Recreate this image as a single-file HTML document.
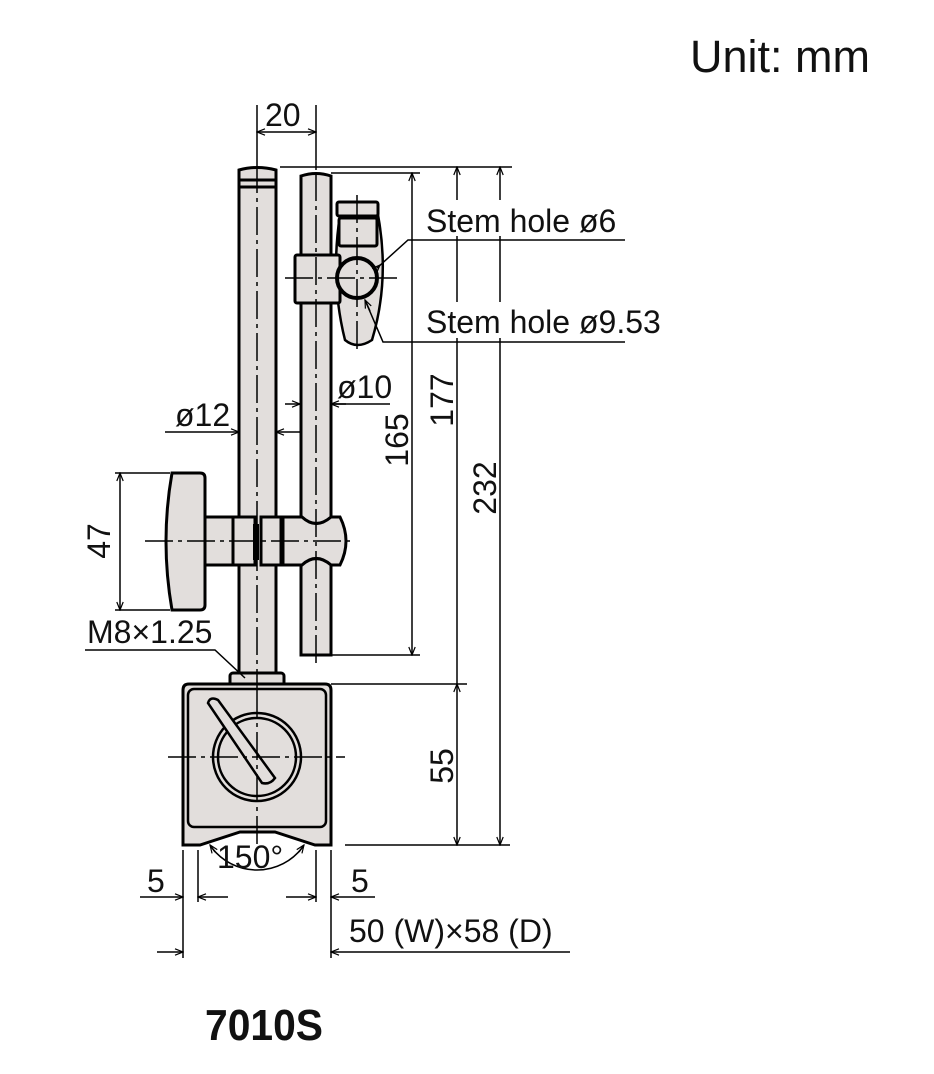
<!DOCTYPE html>
<html><head><meta charset="utf-8"><style>
html,body{margin:0;padding:0;background:#fff;}
svg{display:block;}
text{font-family:"Liberation Sans","DejaVu Sans",sans-serif;fill:#111;}
</style></head><body>
<svg width="934" height="1074" viewBox="0 0 934 1074" xmlns="http://www.w3.org/2000/svg">
<defs>
<marker id="a" viewBox="0 0 10 10" refX="10" refY="5" markerWidth="10" markerHeight="8" orient="auto-start-reverse" markerUnits="userSpaceOnUse"><path d="M0,1 L10,5 L0,9" fill="none" stroke="#000" stroke-width="1.5"/></marker>
</defs>
<text x="690" y="72" font-size="45">Unit: mm</text>

<g fill="#e2dedc" stroke="#000" stroke-width="3">
<path d="M239,680 L239,170 Q257,165 276,170 L276,680 Z"/>
<path d="M301,655 L301,176 Q316,171 331,176 L331,655 Z"/>
<path d="M340,215 Q330,280 345,340 Q357,350 372,340 Q390,280 378,215 Z" stroke-width="2.5"/>
<rect x="337" y="202" width="41" height="14" rx="2"/>
<rect x="339" y="218" width="38" height="28" rx="2"/>
<rect x="295" y="255" width="45" height="48" rx="2"/>
<circle cx="357" cy="278" r="20" stroke-width="4"/>
<path d="M172,473 L200,473 Q205,473 205,478 L205,605 Q205,610 200,610 L172,610 Q160,541 172,473 Z"/>
<rect x="205" y="517" width="28" height="48"/>
<rect x="233" y="517" width="22" height="48"/>
<rect x="261" y="517" width="20" height="48"/>
<path d="M283,517 L302,517 Q316,530 331,517 L340,517 Q352,541 340,565 L331,565 Q316,552 302,565 L283,565 Z"/>
<rect x="230" y="673" width="54" height="14" rx="3"/>
<path d="M183,845 L183,690 Q183,684 189,684 L325,684 Q331,684 331,690 L331,845 L315,845 L275,832 L240,832 L200,845 Z"/>
<rect x="188" y="689" width="138" height="138" rx="6" stroke-width="2.5"/>
<circle cx="257" cy="757" r="44" stroke-width="2.5"/>
<circle cx="257" cy="757" r="39" stroke-width="2.5"/>
<path d="M208,703 Q210,696 218,700 L275,778 Q270,785 262,783 Z" stroke-width="2.5"/>
</g>
<g stroke="#000" stroke-width="3" fill="none">
<line x1="239" y1="180" x2="276" y2="180"/><line x1="239" y1="187" x2="276" y2="187"/>
<line x1="256" y1="524" x2="256" y2="560" stroke-width="6"/>
</g>
<g stroke="#000" stroke-width="1.5" fill="none" stroke-dasharray="28,5,4,5">
<line x1="257" y1="165" x2="257" y2="690"/>
<line x1="316" y1="173" x2="316" y2="665"/>
<line x1="357" y1="195" x2="357" y2="352"/>
<line x1="285" y1="278" x2="400" y2="278"/>
<line x1="145" y1="541" x2="355" y2="541"/>
<line x1="257" y1="690" x2="257" y2="850"/>
<line x1="168" y1="757" x2="345" y2="757"/>
</g>
<g stroke="#000" stroke-width="1.5" fill="none">
<line x1="257" y1="105" x2="257" y2="165"/><line x1="316" y1="105" x2="316" y2="170"/>
<line x1="257" y1="132" x2="316" y2="132" marker-start="url(#a)" marker-end="url(#a)"/>
<line x1="280" y1="167" x2="512" y2="167"/>
<line x1="331" y1="173" x2="420" y2="173"/>
<line x1="331" y1="655" x2="420" y2="655"/>
<line x1="412" y1="173" x2="412" y2="655" marker-start="url(#a)" marker-end="url(#a)"/>
<line x1="457" y1="167" x2="457" y2="684" marker-start="url(#a)"/>
<line x1="500" y1="167" x2="500" y2="845" marker-start="url(#a)" marker-end="url(#a)"/>
<line x1="457" y1="684" x2="457" y2="845" marker-start="url(#a)" marker-end="url(#a)"/>
<line x1="331" y1="684" x2="467" y2="684"/>
<line x1="345" y1="845" x2="510" y2="845"/>
</g>
<g fill="#fff"><rect x="424" y="200" width="205" height="36"/><rect x="424" y="302" width="255" height="36"/></g>
<g stroke="#000" stroke-width="1.5" fill="none">
<polyline points="377,268 408,240 625,240"/>
<line x1="377" y1="268" x2="380" y2="265" marker-end="url(#a)"/>
<polyline points="625,342 383,342 365,300" />
<line x1="370" y1="311" x2="365" y2="300" marker-end="url(#a)"/>
<line x1="285" y1="404" x2="300" y2="404" marker-end="url(#a)"/>
<line x1="331" y1="404" x2="390" y2="404"/><line x1="346" y1="404" x2="331" y2="404" marker-end="url(#a)"/>
<line x1="165" y1="432" x2="239" y2="432" marker-end="url(#a)"/>
<line x1="300" y1="432" x2="276" y2="432" marker-end="url(#a)"/>
<line x1="115" y1="473" x2="170" y2="473"/><line x1="115" y1="610" x2="170" y2="610"/>
<line x1="120" y1="473" x2="120" y2="610" marker-start="url(#a)" marker-end="url(#a)"/>
<polyline points="85,650 215,650 245,678"/>
<line x1="183" y1="850" x2="183" y2="958"/><line x1="198" y1="850" x2="198" y2="902"/>
<line x1="316" y1="850" x2="316" y2="902"/><line x1="331" y1="850" x2="331" y2="958"/>
<line x1="140" y1="897" x2="183" y2="897" marker-end="url(#a)"/><line x1="228" y1="897" x2="198" y2="897" marker-end="url(#a)"/>
<line x1="286" y1="897" x2="316" y2="897" marker-end="url(#a)"/><line x1="375" y1="897" x2="331" y2="897" marker-end="url(#a)"/>
<line x1="157" y1="952" x2="183" y2="952" marker-end="url(#a)"/><line x1="570" y1="952" x2="331" y2="952" marker-end="url(#a)"/>
<path d="M212,848 A57,57 0 0 0 302,848"/>
<line x1="215" y1="852" x2="210" y2="845" marker-end="url(#a)"/>
<line x1="299" y1="852" x2="304" y2="845" marker-end="url(#a)"/>
</g>
<g font-size="32">
<text x="265" y="126">20</text>
<text x="426" y="232">Stem hole ø6</text>
<text x="426" y="333">Stem hole ø9.53</text>
<text x="337" y="398">ø10</text>
<text x="175" y="426">ø12</text>
<text transform="translate(408,440) rotate(-90)" text-anchor="middle">165</text>
<text transform="translate(453,400) rotate(-90)" text-anchor="middle">177</text>
<text transform="translate(496,488) rotate(-90)" text-anchor="middle">232</text>
<text transform="translate(110,541) rotate(-90)" text-anchor="middle">47</text>
<text x="87" y="643">M8×1.25</text>
<text transform="translate(453,766) rotate(-90)" text-anchor="middle">55</text>
<text x="217" y="868">150°</text>
<text x="147" y="892">5</text>
<text x="351" y="892">5</text>
<text x="349" y="942">50 (W)×58 (D)</text>
</g>
<text x="205" y="1040" font-size="44" font-weight="bold" textLength="118" lengthAdjust="spacingAndGlyphs">7010S</text>
</svg>
</body></html>
